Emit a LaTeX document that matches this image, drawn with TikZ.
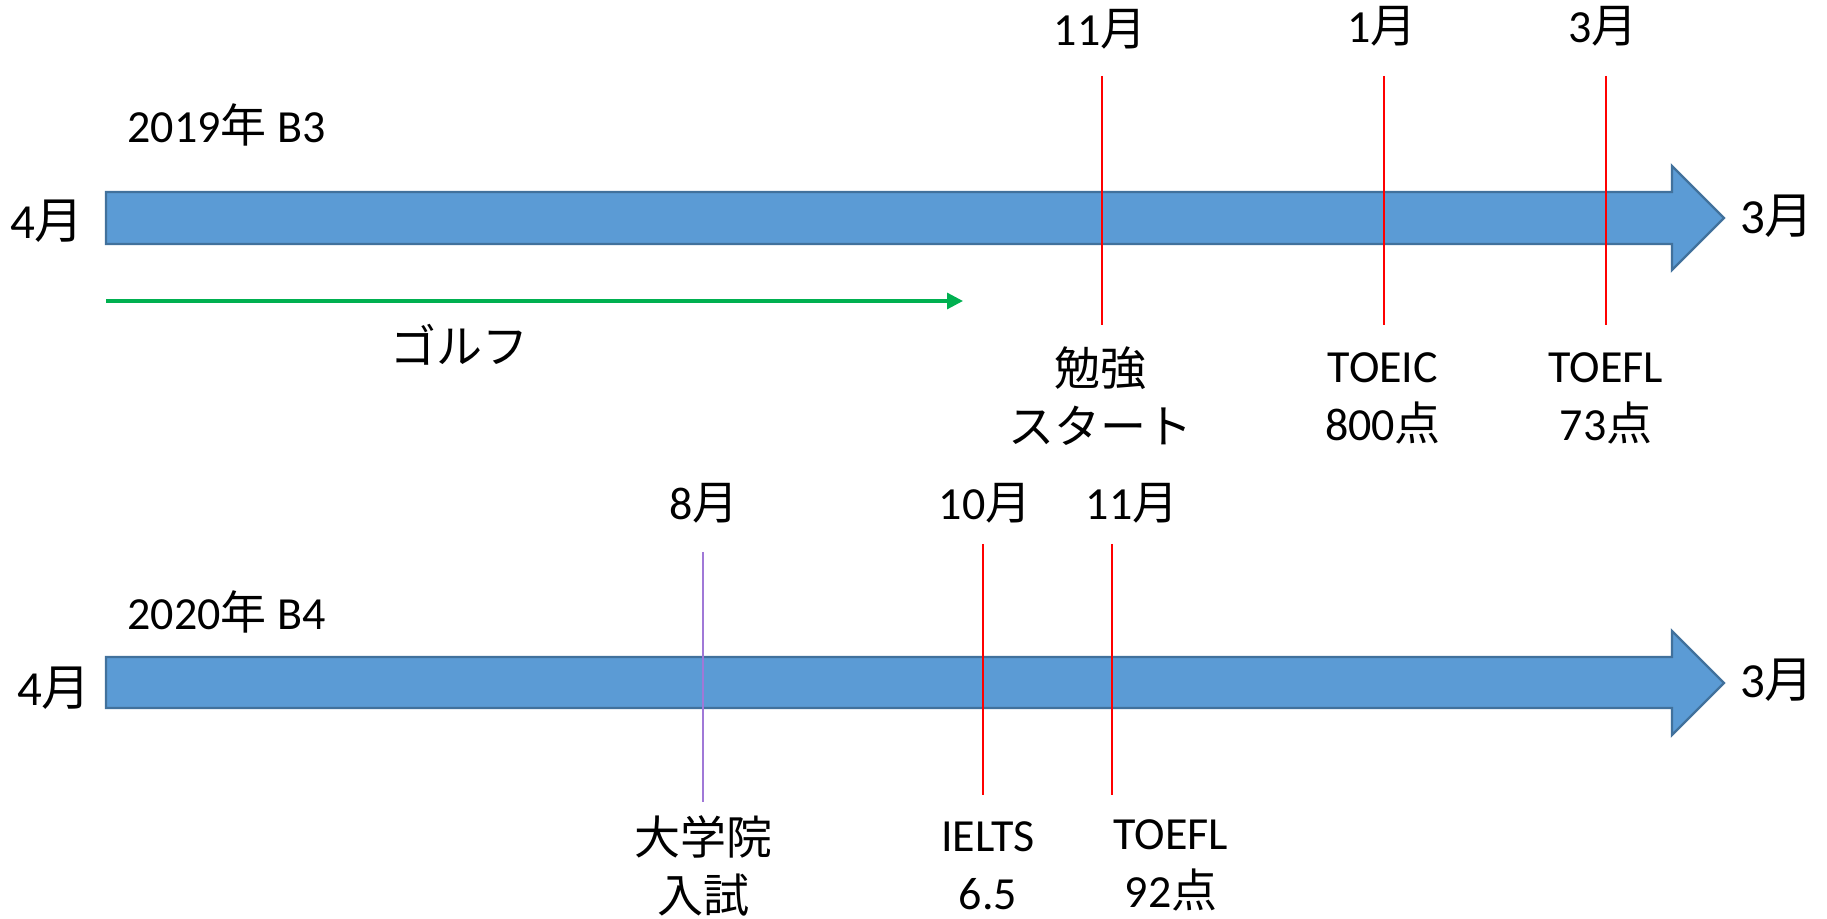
\documentclass[tikz,border=0pt]{standalone}
\usepackage{fontspec}
\setmainfont{Carlito}
\newfontfamily\jp{Noto Sans CJK JP}
\definecolor{tlfill}{RGB}{91,155,213}
\definecolor{tlborder}{RGB}{65,113,156}
\definecolor{golfgreen}{RGB}{0,176,80}
\definecolor{examviolet}{RGB}{160,120,215}
\usetikzlibrary{arrows.meta}
\tikzset{
  lbl/.style={font=\fontsize{23}{29}\selectfont, align=center, inner sep=0pt},
  endlbl/.style={font=\fontsize{24.5}{30}\selectfont, inner sep=0pt},
  tl/.style={draw=tlborder, fill=tlfill, line width=1.2pt},
  redline/.style={draw=red, line width=0.9pt},
  violetline/.style={draw=examviolet, line width=1pt}
}

\begin{document}
\begin{tikzpicture}[x=0.5pt,y=-0.5pt]
    \useasboundingbox (0,0) rectangle (1827,919);

    % 2019 B3
    \draw[tl] (106,192) -- (1672,192) -- (1672,166) -- (1724,218) -- (1672,270) -- (1672,244) -- (106,244) -- cycle;
    \node[endlbl] (start1) at (47,221) {4{\jp 月}};
    \node[endlbl] (end1) at (1777,216) {3{\jp 月}};
    \node[lbl, anchor=west] (year1) at (127,125) {2019{\jp 年} B3};
    \node[lbl] (nov1) at (1100,29) {11{\jp 月}};
    \node[lbl] (jan) at (1382,26) {1{\jp 月}};
    \node[lbl] (mar) at (1603,26) {3{\jp 月}};
    \node[lbl] (study) at (1100,396) {\jp 勉強\\\jp スタート};
    \node[lbl] (toeic) at (1383,398) {TOEIC\\800{\jp 点}};
    \node[lbl] (toefl1) at (1606,398) {TOEFL\\73{\jp 点}};
    \node[lbl] (golf) at (459,345) {\jp ゴルフ};
    \coordinate (studytop) at (1102,76);
    \coordinate (studybot) at (1102,325);
    \coordinate (toeictop) at (1384,76);
    \coordinate (toeicbot) at (1384,325);
    \coordinate (toefltop) at (1606,76);
    \coordinate (toeflbot) at (1606,325);
    \draw[redline] (studytop) -- (studybot);
    \draw[redline] (toeictop) -- (toeicbot);
    \draw[redline] (toefltop) -- (toeflbot);
    \coordinate (golfstart) at (106,301);
    \coordinate (golfend) at (963,301);
    \draw[golfgreen, line width=1.6pt, -{Triangle[length=8pt,width=8pt]}] (golfstart) -- (golfend);

    % 2020 B4
    \draw[tl] (106,657) -- (1672,657) -- (1672,631) -- (1724,683) -- (1672,735) -- (1672,708) -- (106,708) -- cycle;
    \node[endlbl] (start2) at (54,688) {4{\jp 月}};
    \node[endlbl] (end2) at (1777,680) {3{\jp 月}};
    \node[lbl, anchor=west] (year2) at (127,612) {2020{\jp 年} B4};
    \node[lbl] (aug) at (704,503) {8{\jp 月}};
    \node[lbl] (oct) at (985,503) {10{\jp 月}};
    \node[lbl] (nov2) at (1132,503) {11{\jp 月}};
    \node[lbl] (exam) at (703,866) {\jp 大学院\\\jp 入試};
    \node[lbl] (ielts) at (988,866) {IELTS\\6.5};
    \node[lbl] (toefl2) at (1171,865) {TOEFL\\92{\jp 点}};
    \coordinate (examtop) at (703,552);
    \coordinate (exambot) at (703,802);
    \coordinate (ieltstop) at (983,544);
    \coordinate (ieltsbot) at (983,795);
    \coordinate (tfltop) at (1112,544);
    \coordinate (tflbot) at (1112,795);
    \draw[violetline] (examtop) -- (exambot);
    \draw[redline] (ieltstop) -- (ieltsbot);
    \draw[redline] (tfltop) -- (tflbot);
\end{tikzpicture}
\end{document}
